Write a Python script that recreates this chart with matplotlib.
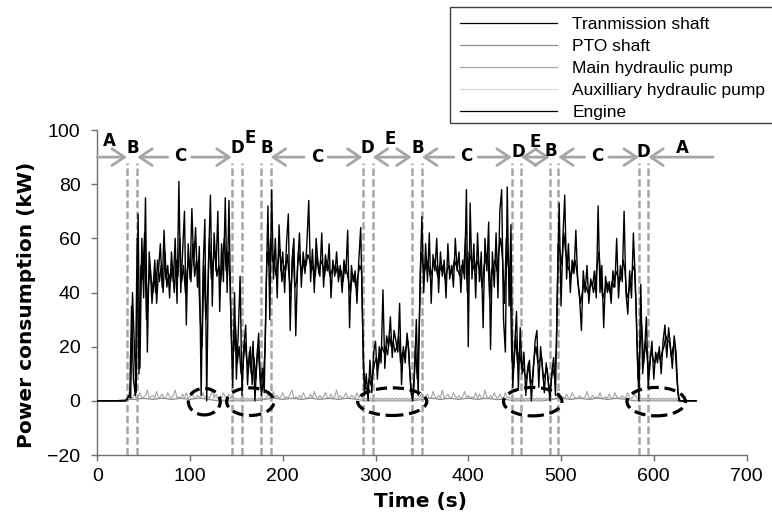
import numpy as np
import matplotlib
matplotlib.use("Agg")
import matplotlib.pyplot as plt
from matplotlib.patches import Ellipse, Rectangle
from matplotlib.lines import Line2D

plt.rcParams['font.family'] = ['Liberation Sans', 'DejaVu Sans']

# ── measured power traces (kW) ────────────────────────────
# engine: sampled every 2 s starting at t = 0 (one row = 20 s)
engine_kw = [
    0, 0, 0, 0, 0, 0, 0, 0, 0, 0,
    0, 0, 0, 0, 0, 0, 0.5, 2, 1, 40,
    20, 3, 69, 12, 60, 38, 75, 18, 55, 45,
    40, 52, 36, 48, 58, 42, 63, 45, 50, 38,
    55, 44, 60, 36, 81, 40, 55, 70, 28, 58,
    45, 71, 50, 64, 42, 57, 2, 48, 67, 0,
    52, 76, 35, 62, 48, 70, 33, 58, 44, 75,
    40, 74, 30, 5, 40, 8, 25, 46, 2, 20,
    28, 6, 18, 10, 22, 0, 15, 25, 5, 12,
    3, 40, 72, 30, 78, 45, 60, 38, 65, 48,
    55, 40, 58, 69, 26, 52, 60, 24, 50, 62,
    42, 55, 47, 58, 74, 44, 56, 40, 60, 50,
    46, 62, 42, 54, 48, 58, 38, 52, 46, 55,
    44, 50, 40, 52, 47, 63, 27, 50, 44, 48,
    36, 52, 64, 30, 2, 10, 0, 15, 3, 18,
    22, 8, 20, 14, 41, 12, 24, 20, 31, 16,
    26, 22, 18, 36, 6, 20, 14, 25, 18, 4,
    0, 10, 30, 2, 45, 68, 40, 58, 44, 62,
    36, 54, 48, 60, 40, 55, 46, 52, 38, 58,
    45, 50, 42, 60, 48, 55, 40, 52, 45, 78,
    20, 73, 45, 58, 38, 62, 44, 55, 27, 60,
    48, 66, 19, 55, 42, 62, 38, 70, 78, 30,
    18, 79, 35, 65, 5, 20, 33, 4, 27, 10,
    18, 2, 12, 15, 0, 10, 22, 26, 5, 20,
    12, 3, 14, 8, 0, 10, 16, 2, 40, 73,
    35, 60, 76, 45, 58, 40, 52, 47, 63, 44,
    38, 26, 48, 40, 50, 36, 45, 42, 48, 38,
    72, 40, 50, 27, 46, 40, 44, 36, 48, 42,
    60, 38, 50, 44, 70, 40, 32, 48, 38, 62,
    45, 20, 0, 43, 10, 18, 31, 5, 15, 22,
    8, 18, 14, 20, 10, 22, 28, 16, 27, 20,
    12, 24, 18, 3, 0, 0, 0, 0, 0, 0,
    0, 0, 0, 0,
]

# transmission shaft: sampled every 2 s starting at t = 1
transmission_kw = [
    0, 0, 0, 0, 0, 0, 0, 0, 0, 0,
    0, 0, 0, 0, 0, 0, 1, 2, 35, 8,
    2, 60, 10, 50, 45, 62, 30, 42, 50, 36,
    46, 40, 52, 44, 50, 40, 55, 42, 47, 44,
    50, 40, 52, 46, 60, 44, 50, 40, 48, 52,
    44, 58, 46, 52, 48, 30, 20, 50, 30, 40,
    60, 45, 52, 55, 46, 50, 44, 52, 60, 48,
    55, 45, 20, 18, 28, 14, 20, 10, 12, 22,
    16, 12, 20, 6, 16, 8, 20, 12, 2, 8,
    20, 55, 50, 60, 52, 50, 46, 52, 56, 44,
    50, 48, 54, 45, 40, 56, 42, 44, 55, 50,
    48, 52, 50, 54, 52, 48, 50, 46, 54, 47,
    52, 50, 46, 52, 50, 46, 48, 50, 47, 50,
    46, 48, 44, 50, 48, 44, 40, 47, 45, 42,
    46, 50, 48, 12, 5, 4, 8, 6, 10, 14,
    16, 12, 18, 20, 18, 20, 17, 24, 20, 22,
    18, 20, 24, 14, 18, 16, 20, 22, 10, 2,
    3, 20, 8, 25, 55, 50, 48, 52, 50, 46,
    48, 52, 50, 46, 50, 48, 50, 45, 48, 50,
    47, 48, 52, 50, 48, 46, 50, 47, 60, 40,
    55, 52, 50, 48, 52, 50, 48, 42, 50, 52,
    55, 38, 48, 50, 52, 48, 56, 60, 52, 36,
    60, 50, 48, 15, 12, 24, 14, 18, 14, 12,
    10, 8, 14, 6, 8, 16, 20, 14, 15, 16,
    8, 10, 12, 4, 6, 12, 9, 20, 58, 55,
    50, 62, 55, 50, 48, 46, 50, 52, 48, 42,
    36, 40, 44, 42, 40, 42, 44, 40, 44, 50,
    55, 44, 38, 40, 44, 42, 40, 44, 42, 48,
    46, 44, 46, 52, 48, 38, 40, 44, 48, 50,
    35, 8, 20, 28, 14, 22, 16, 10, 18, 16,
    14, 16, 18, 15, 18, 20, 24, 22, 22, 16,
    20, 20, 8, 0, 0, 0, 0, 0, 0, 0,
    0, 0, 0,
]

# main hydraulic pump: every 2 s from t = 0
main_pump_kw = [
    0, 0, 0, 0, 0, 0, 0, 0, 0, 0,
    0, 0, 0, 0, 0, 0, 1, 3, 1.5, 1,
    2.5, 1, 1.5, 3, 1, 1.5, 2, 4, 1, 1.5,
    2, 1, 3.5, 1, 1.5, 2.5, 1, 1, 3, 1.5,
    1, 2, 4, 1, 1.5, 1, 2.5, 1, 3, 1,
    1.5, 3.5, 1, 1, 2, 1.5, 1, 3, 1, 2,
    1, 1.5, 4, 1, 2.5, 1, 1.5, 1, 3, 1.5,
    1, 2.5, 1, 1.5, 0.5, 1, 0.5, 1, 0.5, 1,
    0.5, 1, 0.5, 1, 0.5, 1, 0.5, 1, 0.5, 1,
    0.5, 1, 2.5, 1, 1.5, 3.5, 1, 2, 1, 1.5,
    3, 1, 1.5, 1, 2.5, 4, 1, 1.5, 1, 2,
    1, 3, 1.5, 1, 1, 2.5, 1, 3.5, 1.5, 1,
    2, 1, 1.5, 3, 1, 1, 2.5, 1, 1.5, 4,
    1, 2, 1, 1.5, 3, 1, 1, 2, 1.5, 1,
    3, 1, 2.5, 1, 0.5, 1, 0.5, 1, 0.5, 1,
    0.5, 1, 0.5, 1, 0.5, 1, 0.5, 1, 0.5, 1,
    0.5, 1, 0.5, 1, 0.5, 1, 0.5, 1, 0.5, 1,
    0.5, 1, 0.5, 1, 1.5, 3, 1, 1.5, 2.5, 1,
    1, 3.5, 1.5, 1, 2, 1, 4, 1, 1.5, 2.5,
    1, 1, 3, 1.5, 1, 2, 1, 1.5, 3.5, 1,
    2, 1, 1.5, 1, 3, 1, 2.5, 1, 1, 4,
    1.5, 1, 2, 1, 3, 1.5, 1, 2.5, 1, 1,
    3, 1, 1.5, 1, 0.5, 1, 0.5, 1, 0.5, 1,
    0.5, 1, 0.5, 1, 0.5, 1, 0.5, 1, 0.5, 1,
    0.5, 1, 0.5, 1, 0.5, 1, 0.5, 1, 1.5, 3,
    1, 1.5, 1, 2.5, 1, 1, 3, 1.5, 1, 1,
    2, 1, 1, 1.5, 3.5, 1, 1, 2, 1, 1.5,
    1, 3, 1, 1, 1.5, 1, 2.5, 1, 1, 3,
    1.5, 1, 1, 2, 1, 1.5, 3, 1, 1, 1.5,
    2.5, 1, 0.5, 1, 0.5, 1, 0.5, 1, 0.5, 1,
    0.5, 1, 0.5, 1, 0.5, 1, 0.5, 1, 0.5, 1,
    0.5, 1, 0.5, 1, 0.5, 0, 0, 0, 0, 0,
    0, 0, 0, 0,
]

# PTO shaft and auxiliary pump: every 10 s from t = 0
pto_kw = [
    0, 0, 0, 0.5, 0.5, 1, 0.5, 1, 0.5, 1,
    0.5, 1, 0.5, 0, 0, 0, 0, 0, 0.5, 1,
    0.5, 1, 0.5, 1, 0.5, 1, 0.5, 1, 0.5, 0,
    0, 0, 0, 0, 0, 0.5, 1, 0.5, 1, 0.5,
    1, 0.5, 1, 0.5, 0.5, 0, 0, 0, 0, 0.5,
    1, 0.5, 1, 0.5, 1, 0.5, 1, 0.5, 0, 0,
    0, 0, 0, 0, 0,
]
aux_pump_kw = [
    0, 0, 0, 0.8, 0.8, 0.7, 0.8, 0.9, 0.8, 0.7,
    0.8, 0.9, 0.8, 0.6, 0.6, 0.6, 0.6, 0.6, 0.8, 0.9,
    0.8, 0.7, 0.8, 0.9, 0.8, 0.7, 0.8, 0.9, 0.8, 0.6,
    0.6, 0.6, 0.6, 0.6, 0.6, 0.8, 0.9, 0.8, 0.7, 0.8,
    0.9, 0.8, 0.7, 0.8, 0.6, 0.6, 0.6, 0.6, 0.6, 0.8,
    0.9, 0.8, 0.7, 0.8, 0.9, 0.8, 0.7, 0.8, 0.6, 0.6,
    0.6, 0.6, 0.6, 0, 0,
]

# operation phase boundaries (s) and phase letters
phase_bounds = [32, 43, 145, 156, 177, 187, 286, 297,
                339, 350, 447, 457, 488, 497, 584, 594]
phase_letters = ['A', 'B', 'C', 'D', 'E', 'B', 'C', 'D', 'E',
                 'B', 'C', 'D', 'E', 'B', 'C', 'D', 'A']

t_engine = np.arange(len(engine_kw)) * 2.0
t_trans = np.arange(len(transmission_kw)) * 2.0 + 1.0
t_main = np.arange(len(main_pump_kw)) * 2.0
t_pto = np.arange(len(pto_kw)) * 10.0
t_aux = np.arange(len(aux_pump_kw)) * 10.0

# ── figure ───────────────────────────────────────────────
fig = plt.figure(figsize=(7.72, 5.15), dpi=100)
ax = fig.add_axes([0.126, 0.1165, 0.841, 0.631])

ax.plot(t_aux, aux_pump_kw, color='#d9d9d9', lw=0.8, zorder=2)
ax.plot(t_main, main_pump_kw, color='#a6a6a6', lw=0.8, zorder=2)
ax.plot(t_pto, pto_kw, color='#8c8c8c', lw=0.8, zorder=2)
ax.plot(t_trans, transmission_kw, color='black', lw=1.0, zorder=3)
ax.plot(t_engine, engine_kw, color='black', lw=1.0, zorder=3)

# phase boundaries
grey = '#a6a6a6'
for b in phase_bounds:
    ax.plot([b, b], [-20, 88], color=grey, lw=1.8,
            linestyle=(0, (3, 1.3)), zorder=1)

arrow_y = 90
head = '->,head_length=0.6,head_width=0.4'
dbl = '<->,head_length=0.6,head_width=0.4'


def h_arrow(x_from, x_to, style=head):
    ax.annotate('', xy=(x_to, arrow_y), xytext=(x_from, arrow_y),
                arrowprops=dict(arrowstyle=style, color=grey, lw=2.0,
                                shrinkA=0, shrinkB=0, mutation_scale=15),
                zorder=4)


# A (start), C segments, E segments, A (end)
h_arrow(0, 32)
for left, right, mid in [(43, 145, 89), (187, 286, 236),
                         (350, 447, 397.5), (497, 584, 538.5)]:
    h_arrow(mid - 13, left)
    h_arrow(mid + 13, right)
h_arrow(297, 339, dbl)
h_arrow(457, 488, dbl)
h_arrow(664, 594)

label_pos = [(12.6, 95.9), (38, 93.3), (89.2, 90.4), (150.7, 93.3),
             (164.7, 97.2), (183, 93.3), (237.5, 90.2), (291.5, 93.3),
             (315.7, 96.7), (345.4, 93.3), (397.7, 90.4), (453.8, 91.9),
             (472, 95.4), (489.4, 92.4), (539, 90.4), (588.7, 91.9),
             (631.3, 93.3)]
for letter, (x, y) in zip(phase_letters, label_pos):
    ax.text(x, y, letter, ha='center', va='center', fontsize=12,
            fontweight='bold', family='DejaVu Sans', zorder=5)

# idle periods circled
for cx, w, h in [(115.4, 34.4, 9.8), (165, 51, 10.2), (318, 74.5, 10.2),
                 (469.5, 63, 10.5), (602.6, 63, 10.5)]:
    ax.add_patch(Ellipse((cx, -0.3), w, h, fill=False, edgecolor='black',
                         lw=2.3, linestyle=(0, (3.5, 1.8)), zorder=6))

# axes styling
ax.set_xlim(0, 700)
ax.set_ylim(-20, 100)
ax.set_xticks(np.arange(0, 701, 100))
ax.set_yticks(np.arange(-20, 101, 20))
for side in ('top', 'right'):
    ax.spines[side].set_visible(False)
for side in ('left', 'bottom'):
    ax.spines[side].set_color('#707070')
    ax.spines[side].set_linewidth(1.0)
ax.tick_params(axis='both', labelsize=14, color='#707070', length=4,
               width=1.0)
ax.tick_params(axis='x', pad=5)
ax.tick_params(axis='y', pad=8)

fig.text(420 / 772, 1 - 501 / 515, 'Time (s)', ha='center', va='center',
         fontsize=14.5, fontweight='bold', family='DejaVu Sans')
fig.text(27 / 772, 1 - 305 / 515, 'Power consumption (kW)', ha='center',
         va='center', rotation=90, fontsize=14.5, fontweight='bold',
         family='DejaVu Sans')

# legend in a framed box at the top right
fig.patches.append(Rectangle((450 / 772, 1 - 123 / 515), 0.5, 116 / 515,
                             transform=fig.transFigure, fill=False,
                             edgecolor='#404040', lw=1.0))
handles = [Line2D([], [], color='black', lw=0.9),
           Line2D([], [], color='#8c8c8c', lw=0.9),
           Line2D([], [], color='#a6a6a6', lw=0.9),
           Line2D([], [], color='#d9d9d9', lw=0.9),
           Line2D([], [], color='black', lw=0.9)]
names = ['Tranmission shaft', 'PTO shaft', 'Main hydraulic pump',
         'Auxilliary hydraulic pump', 'Engine']
fig.legend(handles, names, loc='upper left',
           bbox_to_anchor=(455 / 772, 1 - 11.5 / 515), frameon=False,
           fontsize=12.5, handlelength=5.6, handletextpad=0.86,
           labelspacing=0.4, borderpad=0.3, borderaxespad=0)

fig.savefig('out.png', dpi=100)
